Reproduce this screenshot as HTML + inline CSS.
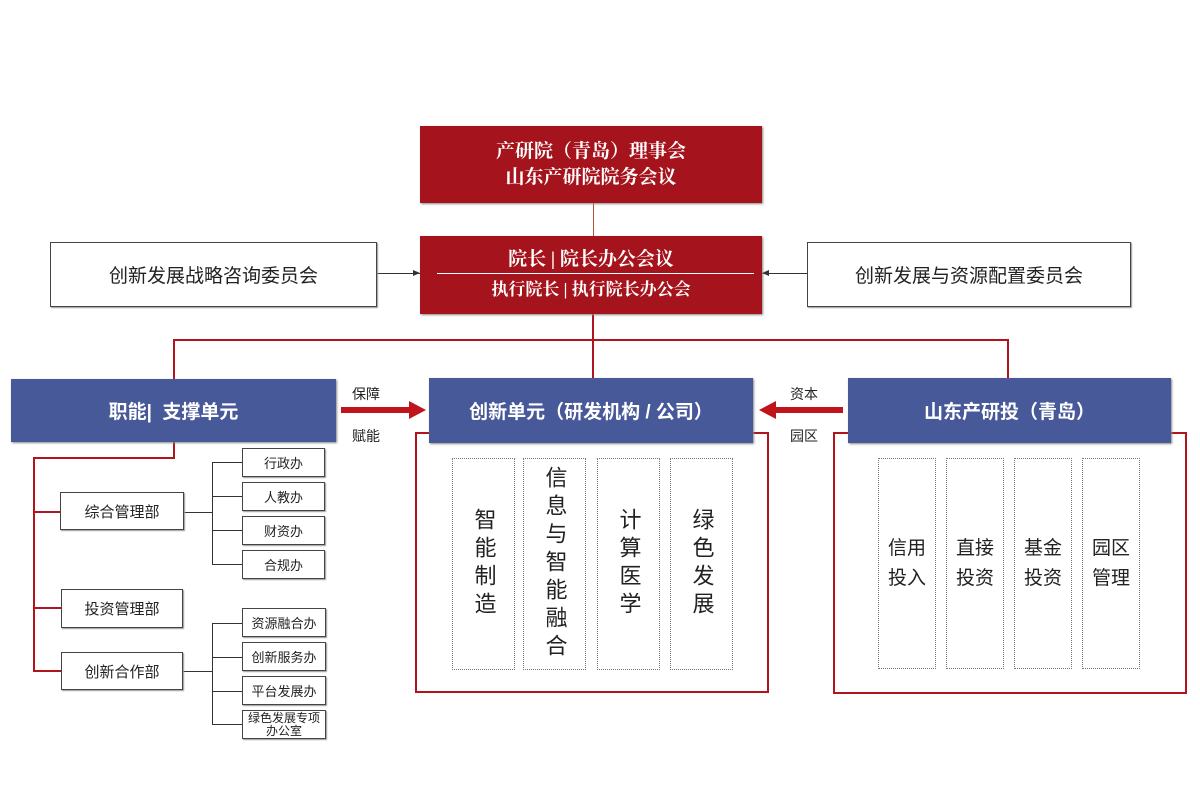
<!DOCTYPE html>
<html><head><meta charset="utf-8"><style>
body{margin:0;width:1200px;height:800px;background:#fff;position:relative;overflow:hidden;font-family:"Liberation Sans","Noto Sans CJK SC",sans-serif}
.a{position:absolute;box-sizing:border-box;display:flex;align-items:center;justify-content:center;text-align:center}
.red{background:#a5141c;color:#fff;font-weight:bold;font-family:"Liberation Serif","Noto Serif CJK SC",serif;font-size:19px;line-height:26px;box-shadow:1px 1px 2px #888}
.blue{background:#48599a;color:#fff;font-weight:bold;font-size:19px;box-shadow:1px 1px 2px #888}
.wb{border:1.5px solid #444;background:#fff;color:#222;box-shadow:1px 1px 1px #999}
.dash{border:1.5px dotted #777}
.v{writing-mode:vertical-rl;font-size:22px;letter-spacing:6px;color:#222}
.h{font-size:19px;line-height:30px;color:#222}
.l{position:absolute}
</style></head><body>
<!-- lines -->
<div class="l" style="left:593px;top:203px;width:1px;height:33px;background:#c0503c"></div>
<div class="l" style="left:592px;top:314px;width:2px;height:64px;background:#b0141c"></div>
<div class="l" style="left:173px;top:339px;width:836px;height:2px;background:#b0141c"></div>
<div class="l" style="left:173px;top:339px;width:2px;height:40px;background:#b0141c"></div>
<div class="l" style="left:1007px;top:339px;width:2px;height:40px;background:#b0141c"></div>
<div class="l" style="left:377px;top:273px;width:43px;height:1px;background:#333"></div>
<div class="l" style="left:413px;top:270px;border-left:7px solid #333;border-top:3px solid transparent;border-bottom:3px solid transparent"></div>
<div class="l" style="left:762px;top:273px;width:45px;height:1px;background:#333"></div>
<div class="l" style="left:762px;top:270px;border-right:7px solid #333;border-top:3px solid transparent;border-bottom:3px solid transparent"></div>
<!-- left tree -->
<div class="l" style="left:173px;top:442px;width:2px;height:16px;background:#b0141c"></div>
<div class="l" style="left:33px;top:457px;width:142px;height:2px;background:#b0141c"></div>
<div class="l" style="left:33px;top:457px;width:2px;height:215px;background:#b0141c"></div>
<div class="l" style="left:33px;top:511px;width:27px;height:2px;background:#b0141c"></div>
<div class="l" style="left:33px;top:607px;width:28px;height:2px;background:#b0141c"></div>
<div class="l" style="left:33px;top:670px;width:28px;height:2px;background:#b0141c"></div>
<div class="l" style="left:184px;top:512px;width:28px;height:1px;background:#333"></div>
<div class="l" style="left:212px;top:462px;width:1px;height:103px;background:#333"></div>
<div class="l" style="left:183px;top:671px;width:29px;height:1px;background:#333"></div>
<div class="l" style="left:212px;top:623px;width:1px;height:101px;background:#333"></div>
<div class="l" style="left:212px;top:462px;width:30px;height:1px;background:#333"></div>
<div class="l" style="left:212px;top:496px;width:30px;height:1px;background:#333"></div>
<div class="l" style="left:212px;top:530px;width:30px;height:1px;background:#333"></div>
<div class="l" style="left:212px;top:564px;width:30px;height:1px;background:#333"></div>
<div class="l" style="left:212px;top:623px;width:30px;height:1px;background:#333"></div>
<div class="l" style="left:212px;top:657px;width:30px;height:1px;background:#333"></div>
<div class="l" style="left:212px;top:691px;width:30px;height:1px;background:#333"></div>
<div class="l" style="left:212px;top:724px;width:30px;height:1px;background:#333"></div>
<!-- red outlines -->
<div class="l" style="left:415px;top:432px;width:354px;height:261px;border:2px solid #b0141c;box-sizing:border-box"></div>
<div class="l" style="left:833px;top:432px;width:354px;height:262px;border:2px solid #b0141c;box-sizing:border-box"></div>
<!-- arrows -->
<div class="l" style="left:341px;top:407px;width:70px;height:6px;background:#c0141c"></div>
<div class="l" style="left:409px;top:401px;border-left:17px solid #c0141c;border-top:9px solid transparent;border-bottom:9px solid transparent"></div>
<div class="l" style="left:776px;top:407px;width:67px;height:6px;background:#c0141c"></div>
<div class="l" style="left:759px;top:401px;border-right:17px solid #c0141c;border-top:9px solid transparent;border-bottom:9px solid transparent"></div>
<div class="l" style="left:352px;top:384px;font-size:14px;color:#222">保障</div>
<div class="l" style="left:352px;top:426px;font-size:14px;color:#222">赋能</div>
<div class="l" style="left:790px;top:384px;font-size:14px;color:#222">资本</div>
<div class="l" style="left:790px;top:426px;font-size:14px;color:#222">园区</div>
<!-- boxes -->
<div class="a red" style="left:420px;top:126px;width:342px;height:77px">产研院（青岛）理事会<br>山东产研院院务会议</div>
<div class="a red" style="left:420px;top:236px;width:342px;height:78px;flex-direction:column;line-height:30px"><span>院长 | 院长办公会议</span><span style="font-size:17px">执行院长 | 执行院长办公会</span></div>
<div class="l" style="left:437px;top:273px;width:317px;height:1px;background:#fff"></div>
<div class="a wb" style="left:50px;top:242px;width:327px;height:65px;font-size:19px">创新发展战略咨询委员会</div>
<div class="a wb" style="left:807px;top:242px;width:324px;height:65px;font-size:19px">创新发展与资源配置委员会</div>
<div class="a blue" style="left:11px;top:379px;width:325px;height:63px">职能|&nbsp; 支撑单元</div>
<div class="a blue" style="left:429px;top:378px;width:324px;height:65px">创新单元（研发机构 / 公司）</div>
<div class="a blue" style="left:848px;top:378px;width:323px;height:65px">山东产研投（青岛）</div>
<div class="a wb" style="left:60px;top:492px;width:124px;height:38px;font-size:15px">综合管理部</div>
<div class="a wb" style="left:61px;top:589px;width:122px;height:39px;font-size:15px">投资管理部</div>
<div class="a wb" style="left:61px;top:652px;width:122px;height:38px;font-size:15px">创新合作部</div>
<div class="a wb" style="left:242px;top:448px;width:83px;height:29px;font-size:13px">行政办</div>
<div class="a wb" style="left:242px;top:482px;width:83px;height:29px;font-size:13px">人教办</div>
<div class="a wb" style="left:242px;top:516px;width:83px;height:29px;font-size:13px">财资办</div>
<div class="a wb" style="left:242px;top:550px;width:83px;height:29px;font-size:13px">合规办</div>
<div class="a wb" style="left:242px;top:608px;width:84px;height:29px;font-size:13px">资源融合办</div>
<div class="a wb" style="left:242px;top:642px;width:84px;height:29px;font-size:13px">创新服务办</div>
<div class="a wb" style="left:242px;top:676px;width:84px;height:29px;font-size:13px">平台发展办</div>
<div class="a wb" style="left:242px;top:710px;width:84px;height:29px;font-size:12px;line-height:13px">绿色发展专项<br>办公室</div>
<div class="a dash" style="left:452px;top:458px;width:63px;height:212px"><span class="v">智能制造</span></div>
<div class="a dash" style="left:523px;top:458px;width:63px;height:212px"><span class="v">信息与智能融合</span></div>
<div class="a dash" style="left:597px;top:458px;width:63px;height:212px"><span class="v">计算医学</span></div>
<div class="a dash" style="left:670px;top:458px;width:63px;height:212px"><span class="v">绿色发展</span></div>
<div class="a dash h" style="left:878px;top:458px;width:58px;height:211px">信用<br>投入</div>
<div class="a dash h" style="left:946px;top:458px;width:58px;height:211px">直接<br>投资</div>
<div class="a dash h" style="left:1014px;top:458px;width:58px;height:211px">基金<br>投资</div>
<div class="a dash h" style="left:1082px;top:458px;width:58px;height:211px">园区<br>管理</div>
</body></html>
